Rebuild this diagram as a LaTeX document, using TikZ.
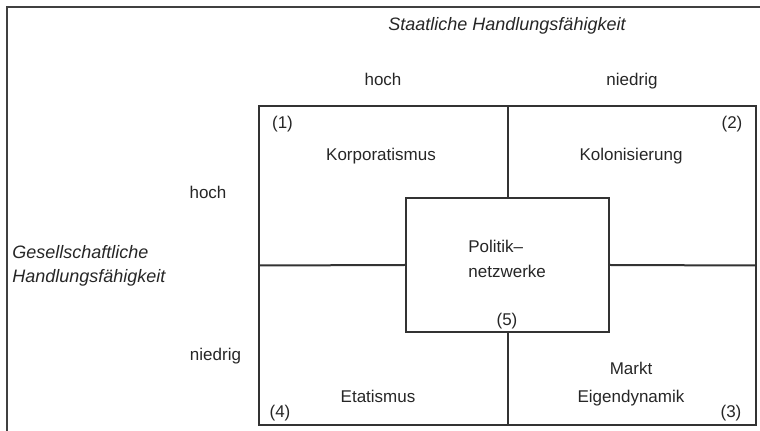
\documentclass[tikz,border=0pt]{standalone}
\usepackage{fontspec}
\setmainfont{Liberation Sans}
\begin{document}
\begin{tikzpicture}[x=0.5pt,y=-0.5pt,
  lbl/.style={anchor=base,inner sep=0pt,text=black!85,font=\fontsize{8.5}{10}\selectfont},
  ital/.style={anchor=base,inner sep=0pt,text=black!85,font=\fontsize{9}{11}\selectfont\itshape},
  boxline/.style={draw=black!80,line width=1pt},
  frameline/.style={draw=black!75,line width=1pt}]
\useasboundingbox (0,0) rectangle (760,431);
% outer frame
\coordinate (fbl) at (7,432);
\coordinate (ftl) at (7,7);
\coordinate (ftr) at (761,7);
\draw[frameline] (fbl) -- (ftl) -- (ftr);
% boxes
\node[boxline,minimum width=248.5pt,minimum height=159.5pt,inner sep=0pt,outer sep=0pt] (main) at (507.5,265.5) {};
\node[boxline,fill=white,minimum width=101.5pt,minimum height=67pt,inner sep=0pt,outer sep=0pt] (center) at (507.5,265) {};
\draw[boxline] (main.north) -- (center.north);
\draw[boxline] (center.south) -- (main.south);
\draw[boxline] (main.west) -- (center.west);
\draw[boxline] (center.east) -- (main.east);
% axis labels
\node[ital] (staat) at (507,31) {Staatliche Handlungsfähigkeit};
\node[lbl] (hochT) at (383,86) {hoch};
\node[lbl] (niedrigT) at (632,86) {niedrig};
\node[lbl] (hochL) at (208,199) {hoch};
\node[lbl] (niedrigL) at (215.5,361) {niedrig};
\node[ital,anchor=base west] (ges1) at (12,259) {Gesellschaftliche};
\node[ital,anchor=base west] (ges2) at (12,283) {Handlungsfähigkeit};
% quadrant labels
\node[lbl] (n1) at (282.5,129) {(1)};
\node[lbl] (korp) at (381,161) {Korporatismus};
\node[lbl] (n2) at (732,129) {(2)};
\node[lbl] (kolo) at (631,161) {Kolonisierung};
\node[lbl,anchor=base west] (pol1) at (468,253) {Politik–};
\node[lbl,anchor=base west] (pol2) at (468,278) {netzwerke};
\node[lbl] (n5) at (507,326) {(5)};
\node[lbl] (etat) at (378,403) {Etatismus};
\node[lbl] (n4) at (280,418) {(4)};
\node[lbl] (markt) at (631,375) {Markt};
\node[lbl] (eigen) at (631,403) {Eigendynamik};
\node[lbl] (n3) at (731,418) {(3)};
\end{tikzpicture}
\end{document}
